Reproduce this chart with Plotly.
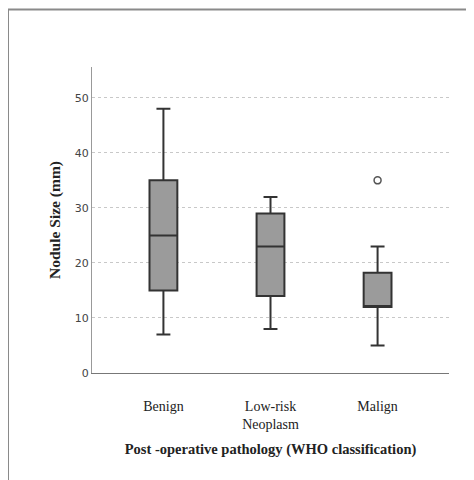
import plotly.graph_objects as go

categories = ["Benign", "Low-risk<br>Neoplasm", "Malign"]
lower_whisker = [7, 8, 5]
q1_vals = [15, 14, 12]
median_vals = [25, 23, 12]
q3_vals = [35, 29, 18.2]
upper_whisker = [48, 32, 23]
outlier_cat = ["Malign"]
outlier_vals = [35]
y_ticks = [0, 10, 20, 30, 40, 50]

fig = go.Figure()
fig.add_trace(go.Box(
    x=categories,
    q1=q1_vals, median=median_vals, q3=q3_vals,
    lowerfence=lower_whisker, upperfence=upper_whisker,
    fillcolor="#9b9b9b",
    line=dict(color="#333333", width=2),
    whiskerwidth=0.5,
    width=0.26,
    boxpoints=False,
    showlegend=False,
))
fig.add_trace(go.Scatter(
    x=outlier_cat, y=outlier_vals, mode="markers",
    marker=dict(symbol="circle-open", size=7, color="#555555", line=dict(width=1.5)),
    showlegend=False,
))

fig.update_layout(
    width=466, height=472,
    margin=dict(l=84, r=25, t=59, b=107),
    paper_bgcolor="white", plot_bgcolor="white",
    xaxis=dict(
        type="category", range=[-0.667, 2.667],
        showline=True, linecolor="#777777", linewidth=1,
        showgrid=False, ticks="",
        tickfont=dict(family="Liberation Serif, Times New Roman, serif", size=14, color="#222222"),
        ticklabelstandoff=20,
        title=dict(text="<b>Post -operative pathology (WHO classification)</b>",
                   font=dict(family="Liberation Serif, Times New Roman, serif", size=14.5, color="#222222"),
                   standoff=12),
    ),
    yaxis=dict(
        range=[0, 55.6], tickvals=y_ticks,
        showline=True, linecolor="#999999", linewidth=1,
        showgrid=True, gridcolor="#c8c8c8", griddash="3px,3px", gridwidth=1,
        zeroline=False, ticks="",
        tickfont=dict(family="DejaVu Sans, sans-serif", size=11, color="#444444"),
        title=dict(text="<b>Nodule Size (mm)</b>",
                   font=dict(family="Liberation Serif, Times New Roman, serif", size=15.5, color="#222222"),
                   standoff=10),
    ),
    shapes=[
        dict(type="line", xref="paper", yref="paper", x0=-0.2353, x1=1.2, y0=1.188, y1=1.188,
             line=dict(color="#8a8a8a", width=2)),
        dict(type="line", xref="paper", yref="paper", x0=-0.2353, x1=-0.2353, y0=1.188, y1=-0.4,
             line=dict(color="#8a8a8a", width=2)),
    ],
)

fig.write_html("out.html")
